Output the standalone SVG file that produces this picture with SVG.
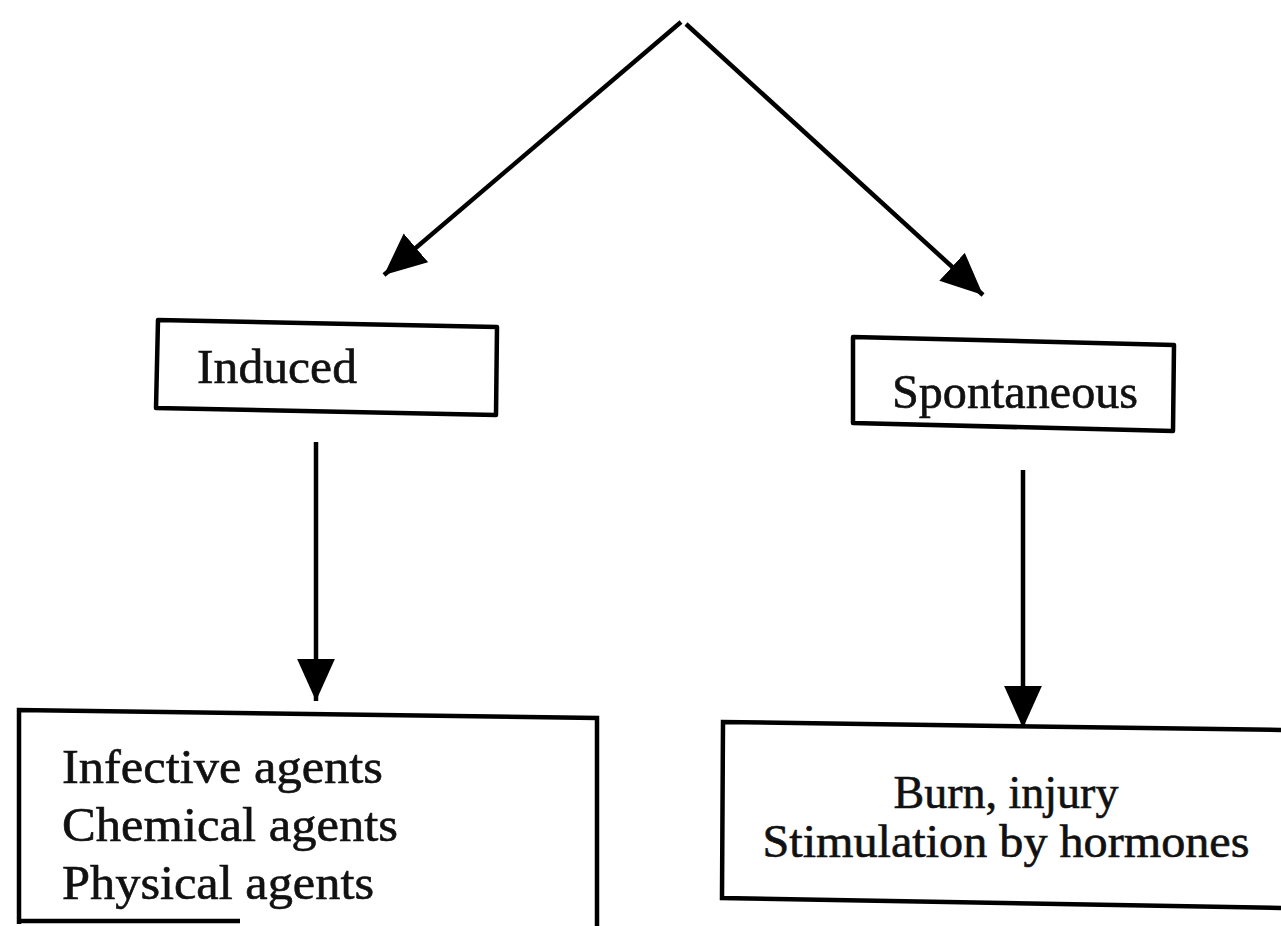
<svg xmlns="http://www.w3.org/2000/svg" width="1281" height="926" viewBox="0 0 1281 926">
<style>
.box{fill:#fff;stroke:#000;stroke-width:4.5;stroke-linejoin:round}
.edge{stroke:#000;stroke-width:4.5;fill:none}
.t{font-family:"Liberation Serif","Times New Roman",serif;fill:#111;stroke:#111;stroke-width:0.6}
</style>
<defs>
<marker id="ah" markerUnits="userSpaceOnUse" markerWidth="44" markerHeight="38" refX="40" refY="18" orient="auto" viewBox="0 0 42 36">
<path d="M0,0 L40,18 L0,36 Z" fill="#000"/>
</marker>
</defs>
<rect width="1281" height="926" fill="#fff"/>
<g id="connectors">
<line class="edge" x1="681" y1="22" x2="384" y2="275" marker-end="url(#ah)"/>
<line class="edge" x1="686" y1="24" x2="983" y2="295" marker-end="url(#ah)"/>
<line class="edge" x1="316" y1="442" x2="316" y2="701" marker-end="url(#ah)"/>
<line class="edge" x1="1023" y1="470" x2="1023" y2="728" marker-end="url(#ah)"/>
</g>
<g id="induced">
<path class="box" d="M158,320 L497,327 L496,415 L156,408 Z"/>
<text class="t" x="197" y="383" font-size="49" textLength="160" lengthAdjust="spacingAndGlyphs">Induced</text>
</g>
<g id="spontaneous">
<path class="box" d="M853,337 L1174,345 L1173,431 L853,423 Z"/>
<text class="t" x="892" y="408" font-size="48" textLength="246" lengthAdjust="spacingAndGlyphs">Spontaneous</text>
</g>
<g id="induced-causes">
<path class="edge" d="M19,924 L19,710 L597,718 L597,926"/>
<line class="edge" x1="19" y1="921" x2="240" y2="921"/>
<text class="t" x="62" y="783" font-size="48" textLength="321" lengthAdjust="spacingAndGlyphs">Infective agents</text>
<text class="t" x="62" y="841" font-size="48" textLength="336" lengthAdjust="spacingAndGlyphs">Chemical agents</text>
<text class="t" x="62" y="899" font-size="48" textLength="312" lengthAdjust="spacingAndGlyphs">Physical agents</text>
</g>
<g id="spontaneous-causes">
<path class="edge" d="M1281,730 L723,722 L722,898 L1281,908"/>
<text class="t" x="1006" y="808" font-size="46" text-anchor="middle">Burn, injury</text>
<text class="t" x="1006" y="857" font-size="46" text-anchor="middle" textLength="487" lengthAdjust="spacingAndGlyphs">Stimulation by hormones</text>
</g>
</svg>
